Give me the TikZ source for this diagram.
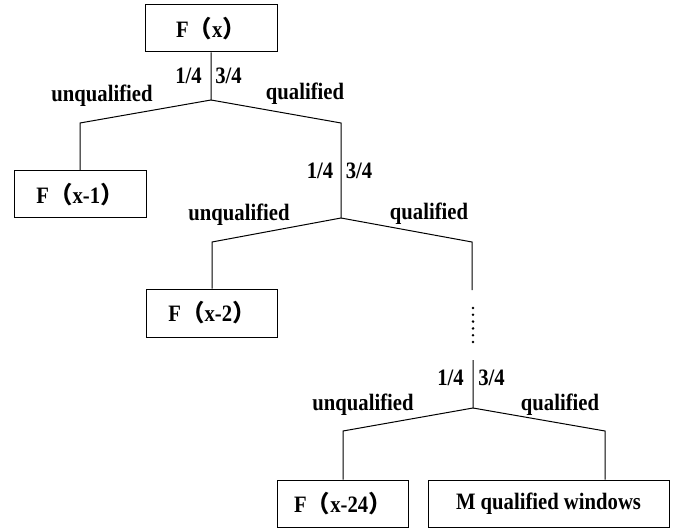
\documentclass[tikz,border=0pt]{standalone}
\usepackage{fontspec}
\setmainfont{Liberation Serif}[FakeStretch=0.88]
\newfontfamily\cjk{Noto Sans CJK SC}
\newcommand{\lpar}{{\cjk （}}
\newcommand{\rpar}{{\cjk ）}}
\begin{document}
\begin{tikzpicture}[x=1pt,y=-1pt,
  every node/.style={font=\fontsize{23.5}{26}\selectfont\bfseries, inner sep=0pt},
  box/.style={draw, line width=1pt, minimum height=47pt},
  lbl/.style={anchor=base},
  conn/.style={line width=1pt}]
\useasboundingbox (0,0) rectangle (677,529);
% boxes
\node[box, minimum width=132pt] (fx) at (211,28.5) {F\lpar x\rpar};
\node[box, minimum width=132pt] (fx1) at (80,194.5) {F\lpar x-1\rpar};
\node[box, minimum width=131pt, minimum height=48pt] (fx2) at (212,313) {F\lpar x-2\rpar};
\node[box, minimum width=131pt] (fx24) at (343,503.5) {F\lpar x-24\rpar};
\node[box, minimum width=241pt] (mq) at (548.5,503.5) {M qualified windows};
% coordinates
\coordinate (b1) at (211,100);
\coordinate (l1) at (80,123);
\coordinate (r1) at (341,123);
\coordinate (b2) at (341,218);
\coordinate (l2) at (212,242);
\coordinate (r2) at (472,242);
\coordinate (r2e) at (472,290);
\coordinate (s3) at (473,360);
\coordinate (b3) at (473,408);
\coordinate (l3) at (343,431);
\coordinate (r3) at (605,431);
% connectors
\draw[conn] (fx.south) -- (b1) -- (l1) -- (fx1.north);
\draw[conn] (b1) -- (r1) -- (b2) -- (l2) -- (fx2.north);
\draw[conn] (b2) -- (r2) -- (r2e);
\draw[conn] (s3) -- (b3) -- (l3) -- (fx24.north);
\draw[conn] (b3) -- (r3) -- (r3 |- mq.north);
% dots
\foreach \k in {0,...,5} \fill (473,308+6.8*\k) circle (1.4pt);
% labels level 1
\node[lbl] (p1a) at (188.5,84) {1/4};
\node[lbl] (p1b) at (228.5,84) {3/4};
\node[lbl] (u1) at (102,102) {unqualified};
\node[lbl] (q1) at (305,100) {qualified};
% labels level 2
\node[lbl] (p2a) at (320,179) {1/4};
\node[lbl] (p2b) at (359,179) {3/4};
\node[lbl] (u2) at (239,221) {unqualified};
\node[lbl] (q2) at (429,220) {qualified};
% labels level 3
\node[lbl] (p3a) at (450.5,385) {1/4};
\node[lbl] (p3b) at (491.5,385) {3/4};
\node[lbl] (u3) at (363,410) {unqualified};
\node[lbl] (q3) at (560,410) {qualified};
\end{tikzpicture}
\end{document}
